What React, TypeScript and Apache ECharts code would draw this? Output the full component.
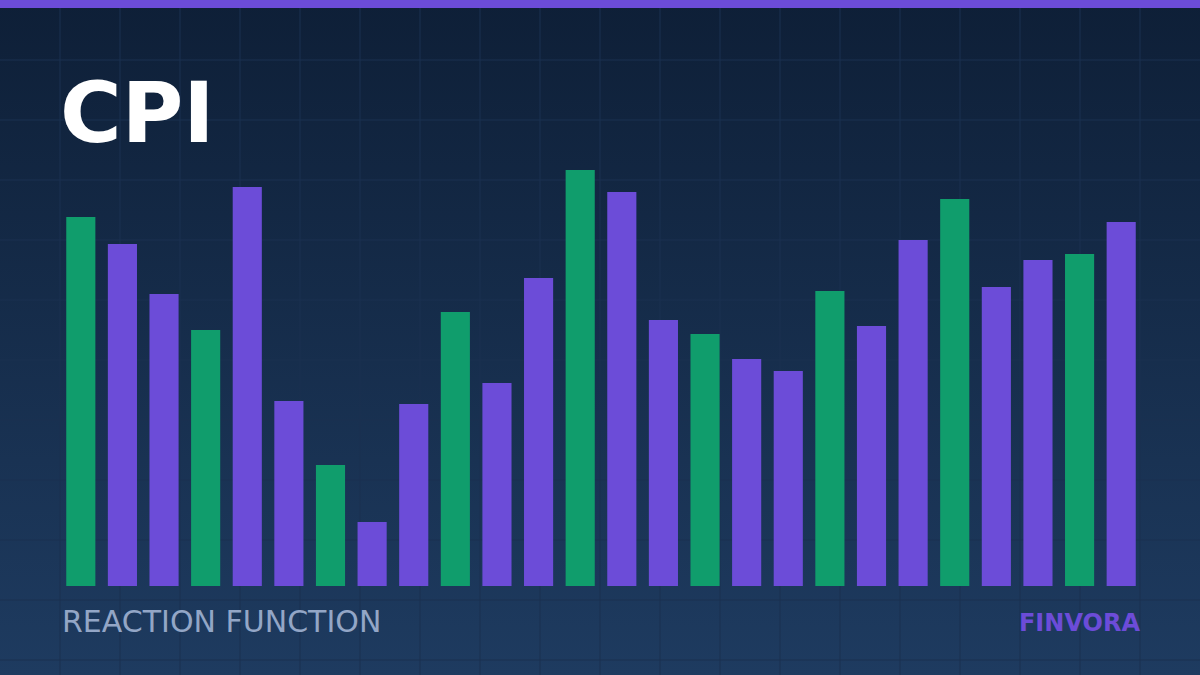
import { useEffect, useRef } from "react";
import * as echarts from "echarts";

// bar values (pixel heights above the baseline)
const categories = [
    "1", "2", "3", "4", "5", "6", "7", "8", "9", "10", "11", "12", "13",
    "14", "15", "16", "17", "18", "19", "20", "21", "22", "23", "24", "25", "26"
];
const values = [
    369, 342, 292, 256, 399, 185, 121, 64, 182, 274, 203, 308, 416,
    394, 266, 252, 227, 215, 295, 260, 346, 387, 299, 326, 332, 364
];
const title = "CPI";
const subtitle = "REACTION FUNCTION";
const brand = "FINVORA";

const GREEN = "#109d6c";
const PURPLE = "#6c4cd8";

function App() {

    const chartRef =
        useRef<HTMLDivElement>(null);

    useEffect(() => {

        if (!chartRef.current)
            return;

        const chart =
            echarts.init(chartRef.current, null, { renderer: "svg" });

        // faint background grid, every 60px
        const gridLines: any[] = [];
        for (let x = 60; x < 1200; x += 60) {
            gridLines.push({
                type: "line",
                shape: { x1: x, y1: 0, x2: x, y2: 675 },
                style: { stroke: "#1b3050", lineWidth: 1 },
                silent: true,
                z: -10
            });
        }
        for (let y = 60; y < 675; y += 60) {
            gridLines.push({
                type: "line",
                shape: { x1: 0, y1: y, x2: 1200, y2: y },
                style: { stroke: "#1b3050", lineWidth: 1 },
                silent: true,
                z: -10
            });
        }

        chart.setOption({
            animation: false,
            grid: {
                left: 60,
                right: 58,
                top: 160,
                bottom: 89
            },
            xAxis: {
                type: "category",
                data: categories,
                show: false
            },
            yAxis: {
                type: "value",
                min: 0,
                max: 426,
                show: false
            },
            graphic: [
                ...gridLines,
                {
                    type: "rect",
                    shape: { x: 0, y: 0, width: 1200, height: 8 },
                    style: { fill: PURPLE },
                    z: 10
                },
                {
                    type: "text",
                    x: 60,
                    y: 113,
                    style: {
                        text: title,
                        fill: "#ffffff",
                        font: "bold 84px 'DejaVu Sans'",
                        textAlign: "left",
                        textVerticalAlign: "middle"
                    },
                    z: 10
                },
                {
                    type: "text",
                    x: 62,
                    y: 621,
                    style: {
                        text: subtitle,
                        fill: "#93a6c6",
                        font: "30px 'DejaVu Sans'",
                        textAlign: "left",
                        textVerticalAlign: "middle"
                    },
                    z: 10
                },
                {
                    type: "text",
                    x: 1140,
                    y: 623,
                    style: {
                        text: brand,
                        fill: PURPLE,
                        font: "bold 24px 'DejaVu Sans'",
                        textAlign: "right",
                        textVerticalAlign: "middle"
                    },
                    z: 10
                }
            ],
            series: [
                {
                    type: "bar",
                    barWidth: "70%",
                    data: values.map((v, i) => ({
                        value: v,
                        itemStyle: { color: i % 3 === 0 ? GREEN : PURPLE }
                    }))
                }
            ]
        });

        return () => {
            chart.dispose();
        };

    }, []);

    return (
        <div
            ref={chartRef}
            style={{
                position: "fixed",
                left: 0,
                top: 0,
                width: "1200px",
                height: "675px",
                background: "linear-gradient(180deg, #0e1f37 0%, #1e3b60 100%)"
            }}
        />
    );
}

export default App;
